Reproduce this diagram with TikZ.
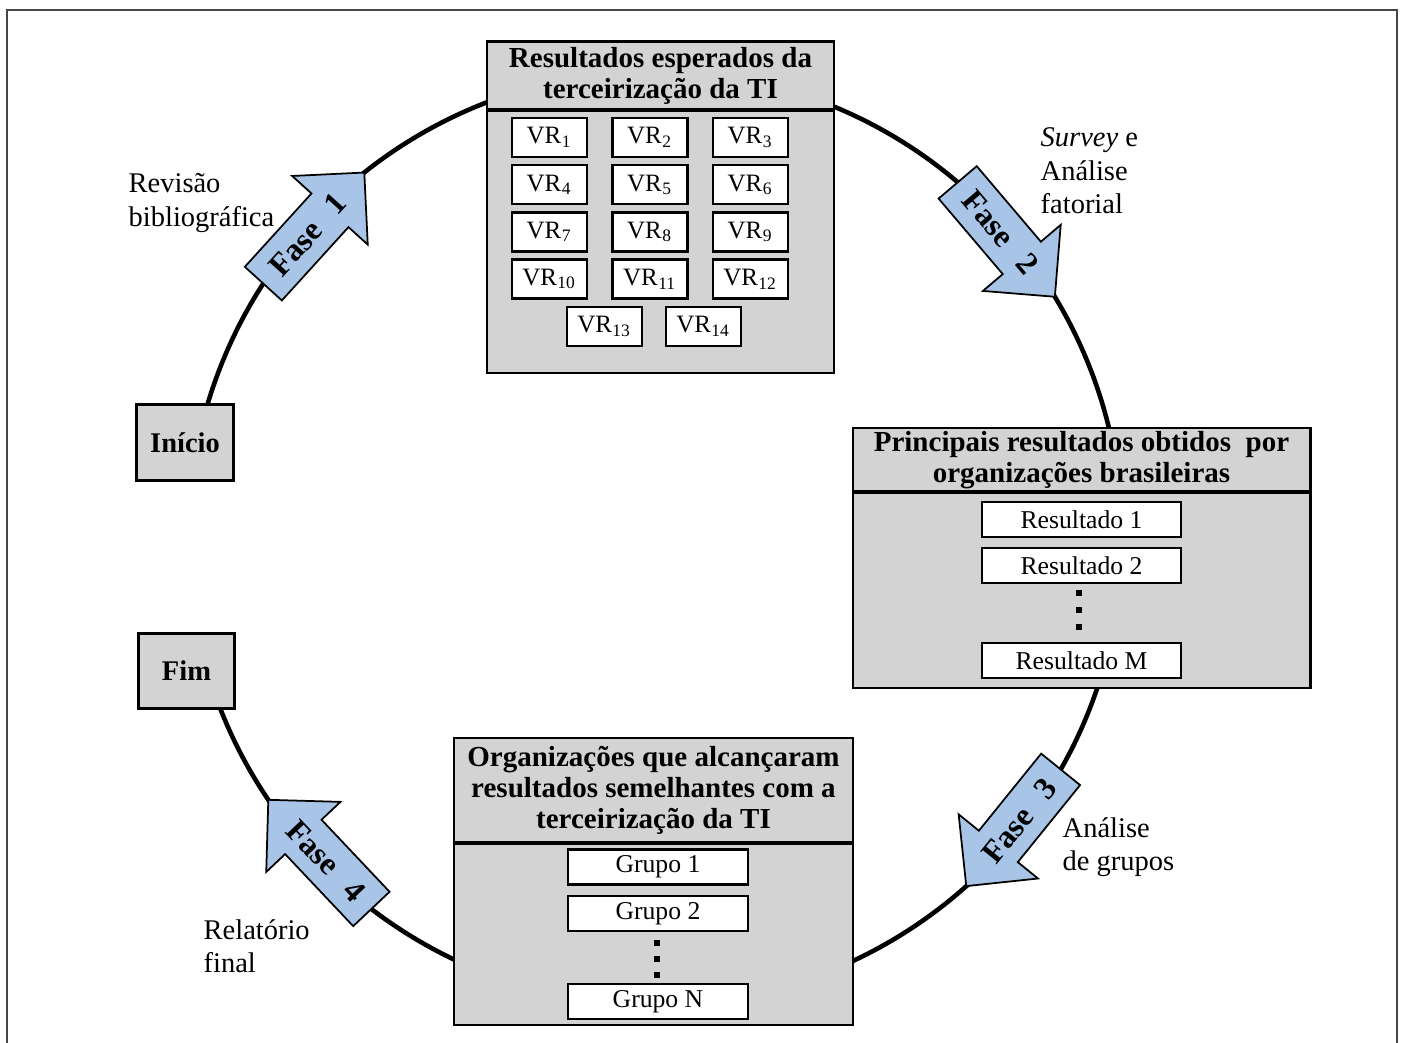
\documentclass[tikz,border=0pt]{standalone}
\usepackage{fontspec}
\setmainfont{Liberation Serif}
\usetikzlibrary{calc}

\definecolor{panelgray}{RGB}{211,211,211}
\definecolor{faseblue}{RGB}{168,197,232}
\definecolor{framegray}{RGB}{70,70,70}

\tikzset{
  panel/.style={draw, fill=panelgray, line width=0.85pt},
  sepline/.style={line width=1.2pt},
  ring/.style={line width=1.3pt},
  paneltitle/.style={font=\fontsize{8.25}{8.8}\selectfont\bfseries, align=center, inner sep=0pt},
  vrbox/.style={draw, fill=white, line width=0.7pt, minimum width=0.75cm, minimum height=0.39cm,
    inner sep=0pt, font=\fontsize{7.1}{8}\selectfont},
  itembox/.style={vrbox, minimum height=0.35cm, font=\fontsize{7.3}{8}\selectfont},
  endbox/.style={panel, minimum width=0.96cm, minimum height=0.75cm, inner sep=0pt,
    font=\fontsize{8.1}{9}\selectfont\bfseries},
  sidetext/.style={align=left, anchor=west, inner sep=0pt, font=\fontsize{8.1}{9.5}\selectfont},
  fasetext/.style={font=\fontsize{9.1}{10}\selectfont\bfseries, inner sep=0pt},
  fase/.style={draw, fill=faseblue, line width=0.5pt, line join=miter},
}

% blue arrow on the ring, from tail #1 to tip #2
\newcommand{\fasearrow}[4]{%
  \coordinate (#1h) at ($(#2)!0.51cm!(#1)$);
  \filldraw[fase] ($(#1)!0.25cm!90:(#2)$) -- ($(#1h)!0.25cm!90:(#2)$) -- ($(#1h)!0.51cm!90:(#2)$) -- (#2)
    -- ($(#1h)!0.51cm!-90:(#2)$) -- ($(#1h)!0.25cm!-90:(#2)$) -- ($(#1)!0.25cm!-90:(#2)$) -- cycle;
  \path (#1) -- (#2) node[fasetext, pos=0.44, sloped] (#3) {Fase\hspace{0.65em}#4};
}
\newcommand{\vr}[1]{VR\kern0.15pt\textsubscript{#1}}

\begin{document}
\begin{tikzpicture}[x=0.01cm, y=-0.01cm]
  \useasboundingbox (0,0) rectangle (1402,1043);
  \draw[framegray, line width=0.6pt] (7,1043) -- (7,10) -- (1397,10) -- (1397,1043);

  % the ring
  \coordinate (c) at (655,538);
  \draw[ring] (c) ++(-165:467) arc[start angle=-165, end angle=160, radius=467];

  % Resultados esperados
  \filldraw[panel] (487,42) rectangle (834,373);
  \draw[sepline] (487,110) -- (834,110);
  \node[paneltitle] (esperados) at (660.5,76) {Resultados esperados da\\terceirização da TI};
  \foreach \r in {0,...,3}
    \foreach \k in {1,2,3} {
      \pgfmathtruncatemacro{\n}{3*\r+\k}
      \node[vrbox] (vr\n) at ({449+100.5*\k},{137.5+47.2*\r}) {\vr{\n}};
    }
  \node[vrbox] (vr13) at (604.5,326.5) {\vr{13}};
  \node[vrbox] (vr14) at (703.5,326.5) {\vr{14}};

  % Principais resultados
  \filldraw[panel] (853,428) rectangle (1310,688);
  \draw[sepline] (853,492) -- (1310,492);
  \node[paneltitle] (principais) at (1081.5,460) {Principais resultados obtidos~ por\\organizações brasileiras};
  \node[itembox, minimum width=1.99cm] (res1) at (1081.5,519.5) {Resultado 1};
  \node[itembox, minimum width=1.99cm] (res2) at (1081.5,565.5) {Resultado 2};
  \node[itembox, minimum width=1.99cm] (resM) at (1081.5,660.5) {Resultado M};
  \foreach \y in {593,610,627}
    \fill (1079,\y) +(-3,-3) rectangle +(3,3);

  % Organizacoes
  \filldraw[panel] (454,738) rectangle (853,1025);
  \draw[sepline] (454,843) -- (853,843);
  \node[paneltitle] (organizacoes) at (653.5,790) {Organizações que alcançaram\\resultados semelhantes com a\\terceirização da TI};
  \node[itembox, minimum width=1.8cm] (grp1) at (658,867) {Grupo 1};
  \node[itembox, minimum width=1.8cm] (grp2) at (658,913.5) {Grupo 2};
  \node[itembox, minimum width=1.8cm] (grpN) at (658,1001.5) {Grupo N};
  \foreach \y in {943,959,975}
    \fill (657,\y) +(-3,-3) rectangle +(3,3);

  % inicio e fim
  \node[endbox] (inicio) at (185,442.5) {Início};
  \node[endbox] (fim) at (186.5,671) {Fim};

  % fases
  \coordinate (f1a) at ($(c)+(-147:467)$);
  \coordinate (f1b) at ($(c)+(-128.5:467)$);
  \coordinate (f2a) at ($(c)+(-49.6:467)$);
  \coordinate (f2b) at ($(c)+(-31.1:467)$);
  \coordinate (f3a) at ($(c)+(29.7:467)$);
  \coordinate (f3b) at ($(c)+(48.2:467)$);
  \coordinate (f4a) at ($(c)+(127.4:467)$);
  \coordinate (f4b) at ($(c)+(145.9:467)$);
  \fasearrow{f1a}{f1b}{fase1}{1}
  \fasearrow{f2a}{f2b}{fase2}{2}
  \fasearrow{f3a}{f3b}{fase3}{3}
  \fasearrow{f4a}{f4b}{fase4}{4}

  \node[sidetext] (revisao) at (128,203) {Revisão\\bibliográfica};
  \node[sidetext] (survey) at (1040,171) {\textit{Survey} e\\Análise\\fatorial};
  \node[sidetext] (agrupos) at (1062,847) {Análise\\de grupos};
  \node[sidetext] (relatorio) at (203,946) {Relatório\\final};
\end{tikzpicture}
\end{document}
